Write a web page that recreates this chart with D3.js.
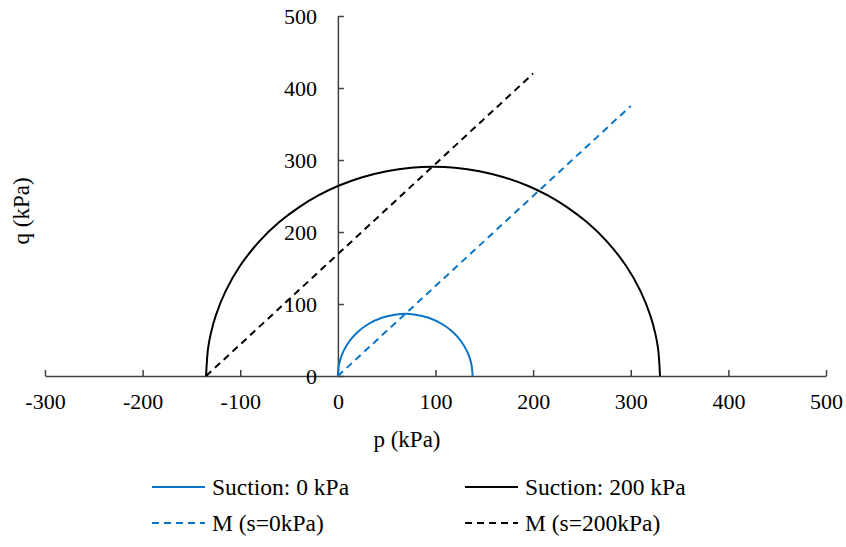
<!DOCTYPE html>
<html>
<head>
<meta charset="utf-8">
<script src="https://cdn.jsdelivr.net/npm/d3@7"></script>
<style>
  html, body { margin: 0; padding: 0; background: #fff; }
</style>
</head>
<body>
<svg id="chart" width="846" height="547"></svg>
<script>
// Yield surfaces (p, q) in kPa
const yieldS0P = [0, 1, 3, 6, 12, 20, 30, 45, 60, 69, 78, 93, 108, 118, 126, 132, 135, 137, 138];
const yieldS0Q = [0, 14.6, 25.2, 35.2, 48.6, 60.7, 71.2, 80.9, 85.5, 86.3, 85.5, 80.9, 71.2, 60.7, 48.6, 35.2, 25.2, 14.6, 0];

const yieldS200P = [-135, -133, -130, -125, -115, -100, -80, -60, -40, -20, 0, 25, 50, 75, 97.5, 120, 145, 170, 195, 215, 235, 255, 275, 295, 310, 320, 325, 328, 330];
const yieldS200Q = [0, 38, 59.9, 84.3, 117.9, 153.4, 187.7, 213.8, 234.3, 250.8, 263.9, 276.1, 284.5, 289.3, 290.6, 289.3, 284.5, 276.1, 263.9, 250.8, 234.3, 213.8, 187.7, 153.4, 117.9, 84.3, 59.9, 38, 0];

// Critical state lines
const csl0P = [0, 300];
const csl0Q = [0, 375];
const csl200P = [-135, 200];
const csl200Q = [0, 420];

const xTicks = [-300, -200, -100, 0, 100, 200, 300, 400, 500];
const yTicks = [0, 100, 200, 300, 400, 500];

const legendLabels = ["Suction: 0 kPa", "Suction: 200 kPa", "M (s=0kPa)", "M (s=200kPa)"];

const BLUE = "#0a74c6";
const BLACK = "#000";
const AXIS = "#404040";
const FONT = "Liberation Serif";

const svg = d3.select("#chart").attr("font-family", FONT);

const x = d3.scaleLinear().domain([-300, 500]).range([45, 826]);
const y = d3.scaleLinear().domain([0, 500]).range([376, 16]);

const toPts = (ps, qs) => ps.map((p, i) => [p, qs[i]]);
const plain = d => String(d);

// x axis along q = 0, ticks pointing up
const gx = svg.append("g").attr("transform", `translate(0,${y(0)})`)
  .call(d3.axisBottom(x).tickValues(xTicks).tickSizeInner(-6).tickSizeOuter(0).tickPadding(17)
    .tickFormat(plain))
  .attr("font-family", FONT).attr("font-size", 22);
gx.select(".domain").attr("stroke", AXIS).attr("stroke-width", 1.5);
gx.selectAll(".tick line").attr("stroke", AXIS).attr("stroke-width", 1.5);
gx.selectAll(".tick text").attr("font-family", FONT).attr("font-size", 22).attr("fill", "#000");

// y axis along p = 0, ticks pointing right
const gy = svg.append("g").attr("transform", `translate(${x(0)},0)`)
  .call(d3.axisLeft(y).tickValues(yTicks).tickSizeInner(-6).tickSizeOuter(0).tickPadding(21)
    .tickFormat(plain))
  .attr("font-family", FONT).attr("font-size", 22);
gy.select(".domain").attr("stroke", AXIS).attr("stroke-width", 1.5);
gy.selectAll(".tick line").attr("stroke", AXIS).attr("stroke-width", 1.5);
gy.selectAll(".tick text").attr("font-family", FONT).attr("font-size", 22).attr("fill", "#000");

// Axis titles
svg.append("text").attr("x", 407).attr("y", 447).attr("text-anchor", "middle")
  .attr("font-family", FONT).attr("font-size", 23).text("p (kPa)");
svg.append("text").attr("transform", "translate(29,211) rotate(-90)").attr("text-anchor", "middle")
  .attr("font-family", FONT).attr("font-size", 23).text("q (kPa)");

const line = d3.line().x(d => x(d[0])).y(d => y(d[1]));
const curve = d3.line().x(d => x(d[0])).y(d => y(d[1])).curve(d3.curveCatmullRom.alpha(0.5));

const series = [
  { pts: toPts(yieldS0P, yieldS0Q), color: BLUE, dash: null, gen: curve },
  { pts: toPts(yieldS200P, yieldS200Q), color: BLACK, dash: null, gen: curve },
  { pts: toPts(csl0P, csl0Q), color: BLUE, dash: "7,5", gen: line },
  { pts: toPts(csl200P, csl200Q), color: BLACK, dash: "7,5", gen: line }
];

series.forEach(s => {
  svg.append("path").attr("d", s.gen(s.pts)).attr("fill", "none")
    .attr("stroke", s.color).attr("stroke-width", 2)
    .attr("stroke-dasharray", s.dash);
});

// Legend: two columns, two rows
const legendPos = [[152, 487], [465, 487], [152, 523], [465, 523]];
series.forEach((s, i) => {
  const [lx, ly] = legendPos[i];
  svg.append("line").attr("x1", lx).attr("x2", lx + 53).attr("y1", ly).attr("y2", ly)
    .attr("stroke", s.color).attr("stroke-width", 2).attr("stroke-dasharray", s.dash);
  svg.append("text").attr("x", lx + 60).attr("y", ly + 8).attr("font-size", 23.5)
    .attr("font-family", FONT).text(legendLabels[i]);
});
</script>
</body>
</html>
